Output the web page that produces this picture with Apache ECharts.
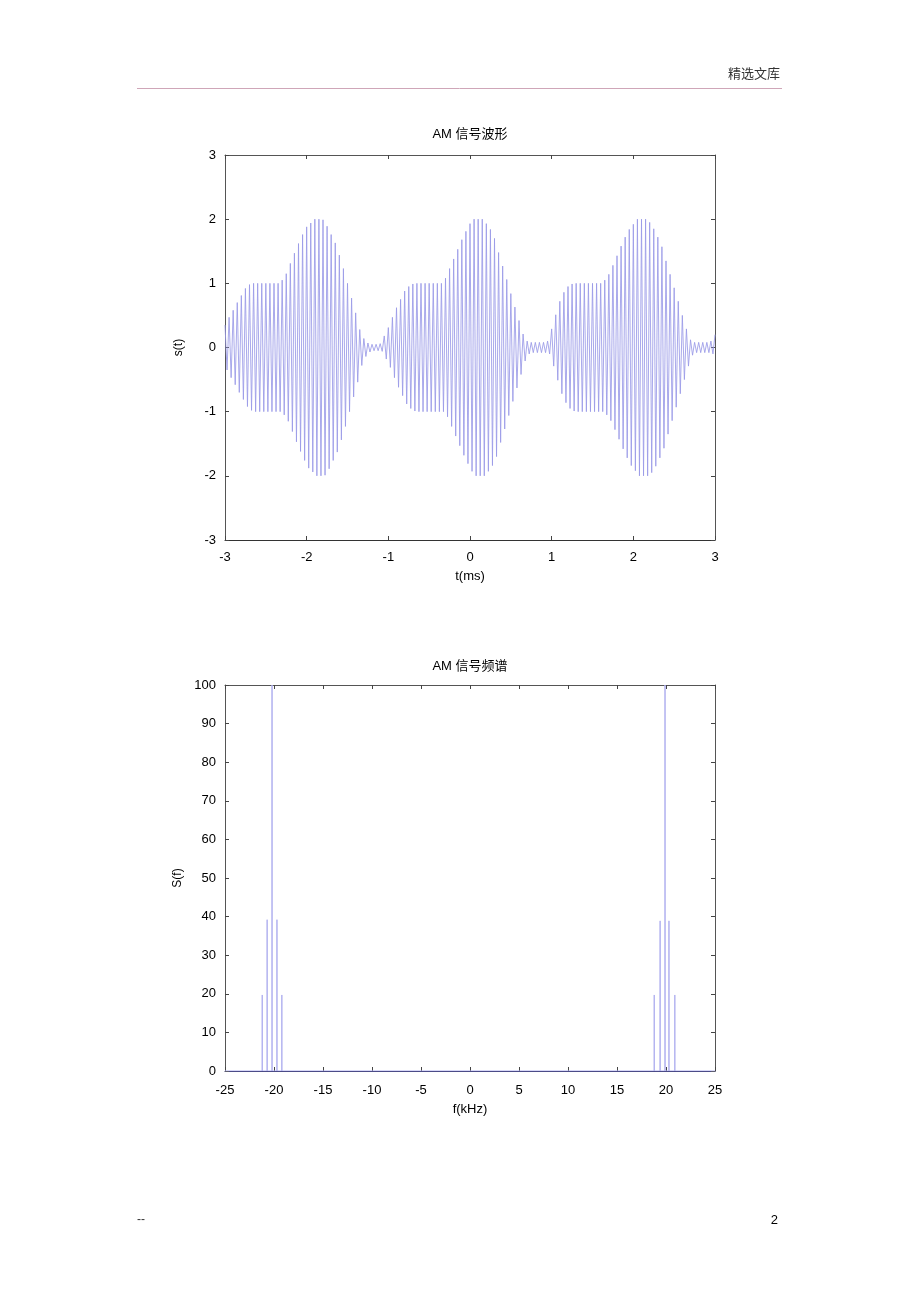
<!DOCTYPE html>
<html>
<head>
<meta charset="utf-8">
<script src="https://cdn.jsdelivr.net/npm/echarts@6/dist/echarts.min.js"></script>
<style>
html,body{margin:0;padding:0;background:#fff;}
#c{width:920px;height:1303px;}
</style>
</head>
<body>
<div id="c"></div>
<script>
// ---- Data ----
// Top chart: AM waveform, envelope amplitude of each carrier cycle (one value per 0.05 ms, t = -3 .. 3 ms)
var waveTimeStart = -3;
var waveCycleMs = 0.05;
var waveEnvelope = [
  0.35,0.47,0.58,0.70,0.81,0.92,0.98,1.0,1.0,1.0,
  1.0,1.0,1.0,1.0,1.05,1.15,1.31,1.47,1.62,1.76,
  1.88,1.94,2.0,2.0,1.99,1.89,1.76,1.63,1.44,1.23,
  1.0,0.77,0.54,0.28,0.14,0.07,0.05,0.05,0.06,0.18,
  0.31,0.47,0.62,0.75,0.88,0.95,0.99,1.0,1.0,1.0,
  1.0,1.0,1.0,1.0,1.08,1.23,1.38,1.53,1.68,1.81,
  1.93,2.0,2.0,2.0,1.93,1.84,1.70,1.48,1.27,1.06,
  0.84,0.63,0.42,0.21,0.10,0.08,0.08,0.08,0.08,0.10,
  0.29,0.51,0.72,0.86,0.95,0.99,1.0,1.0,1.0,1.0,
  1.0,1.0,1.0,1.05,1.14,1.28,1.43,1.58,1.72,1.84,
  1.92,2.0,2.0,2.0,1.95,1.85,1.72,1.57,1.35,1.14,
  0.93,0.72,0.50,0.29,0.12,0.08,0.08,0.08,0.08,0.10,
  0.20
];

// Bottom chart: AM spectrum spikes (frequency kHz, magnitude)
var specFreqs   = [-21.2,-20.7,-20.2,-19.7,-19.2, 18.8,19.4,19.9,20.3,20.9];
var specHeights = [ 19.7, 39.2, 100, 39.2, 19.7, 19.7,38.9,100,38.9,19.7];
var specRange = [-25, 25];

// ---- Build series data ----
var waveData = [];
for (var i = 0; i < waveEnvelope.length; i++) {
  var t = waveTimeStart + i * waveCycleMs;
  waveData.push([+t.toFixed(4), waveEnvelope[i]]);
  if (i < waveEnvelope.length - 1) {
    waveData.push([+(t + waveCycleMs / 2).toFixed(4), -waveEnvelope[i]]);
  }
}
var specData = [[specRange[0], 0]];
for (var k = 0; k < specFreqs.length; k++) {
  specData.push([specFreqs[k], 0], [specFreqs[k], specHeights[k]], [specFreqs[k], 0]);
}
specData.push([specRange[1], 0]);

var FONT = '"Liberation Sans", Arial, "Noto Sans CJK SC", sans-serif';
var frame = '#555555';

function xAx(grid, min, max, interval, name, pos, show, lineColor, margin, gap) {
  return {
    type: 'value', gridIndex: grid, min: min, max: max, interval: interval,
    position: pos,
    name: show ? name : '', nameLocation: 'middle', nameGap: gap || 30,
    nameTextStyle: {fontFamily: FONT, fontSize: 13, color: '#000'},
    axisLine: {show: true, onZero: false, lineStyle: {color: lineColor || frame, width: 1}},
    axisTick: {show: true, inside: true, length: 4, lineStyle: {color: '#444'}},
    axisLabel: {show: show, fontFamily: FONT, fontSize: 13, color: '#000', margin: margin || 8},
    splitLine: {show: false}
  };
}
function yAx(grid, min, max, interval, name, pos, show) {
  return {
    type: 'value', gridIndex: grid, min: min, max: max, interval: interval,
    position: pos,
    name: show ? name : '', nameLocation: 'middle', nameGap: 40, nameRotate: 90,
    nameTextStyle: {fontFamily: FONT, fontSize: 12, color: '#000'},
    axisLine: {show: true, onZero: false, lineStyle: {color: frame, width: 1}},
    axisTick: {show: true, inside: true, length: 4, lineStyle: {color: '#444'}},
    axisLabel: {show: show, fontFamily: FONT, fontSize: 13, color: '#000', margin: 9},
    splitLine: {show: false}
  };
}

var chart = echarts.init(document.getElementById('c'), null, {renderer: 'canvas'});
chart.setOption({
  backgroundColor: '#fff',
  animation: false,
  grid: [
    {left: 225, top: 155, width: 490, height: 385},
    {left: 225, top: 685, width: 490, height: 386}
  ],
  xAxis: [
    xAx(0, -3, 3, 1, 't(ms)', 'bottom', true, '#333', 11, 30),
    xAx(0, -3, 3, 1, '', 'top', false),
    xAx(1, -25, 25, 5, 'f(kHz)', 'bottom', true, '#2a2a66', 13, 32),
    xAx(1, -25, 25, 5, '', 'top', false)
  ],
  yAxis: [
    yAx(0, -3, 3, 1, 's(t)', 'left', true),
    yAx(0, -3, 3, 1, '', 'right', false),
    yAx(1, 0, 100, 10, 'S(f)', 'left', true),
    yAx(1, 0, 100, 10, '', 'right', false)
  ],
  series: [
    {
      type: 'line', xAxisIndex: 0, yAxisIndex: 0, data: waveData,
      showSymbol: false, symbol: 'none', smooth: false,
      lineStyle: {color: '#9a9ae8', width: 1, opacity: 0.85}
    },
    {
      type: 'line', xAxisIndex: 2, yAxisIndex: 2, data: specData,
      showSymbol: false, symbol: 'none', smooth: false,
      lineStyle: {color: '#b0b0ef', width: 1}
    }
  ],
  graphic: [
    {type: 'text', left: 728, top: 67, style: {text: '精选文库', font: '13px "Noto Sans CJK SC", sans-serif', fill: '#333'}},
    {type: 'line', shape: {x1: 137, y1: 88.5, x2: 782, y2: 88.5}, style: {stroke: '#cfa6b8', lineWidth: 1}},
    {type: 'text', x: 470, y: 134, style: {text: 'AM 信号波形', font: '13px "Liberation Sans", "Noto Sans CJK SC", sans-serif', fill: '#000', align: 'center', verticalAlign: 'middle'}},
    {type: 'text', x: 470, y: 666, style: {text: 'AM 信号频谱', font: '13px "Liberation Sans", "Noto Sans CJK SC", sans-serif', fill: '#000', align: 'center', verticalAlign: 'middle'}},
    {type: 'text', x: 137, y: 1220, style: {text: '--', font: '12px "Liberation Sans", sans-serif', fill: '#333', verticalAlign: 'middle'}},
    {type: 'text', x: 778, y: 1220, style: {text: '2', font: '13px "Liberation Sans", sans-serif', fill: '#000', align: 'right', verticalAlign: 'middle'}}
  ]
});
</script>
</body>
</html>
